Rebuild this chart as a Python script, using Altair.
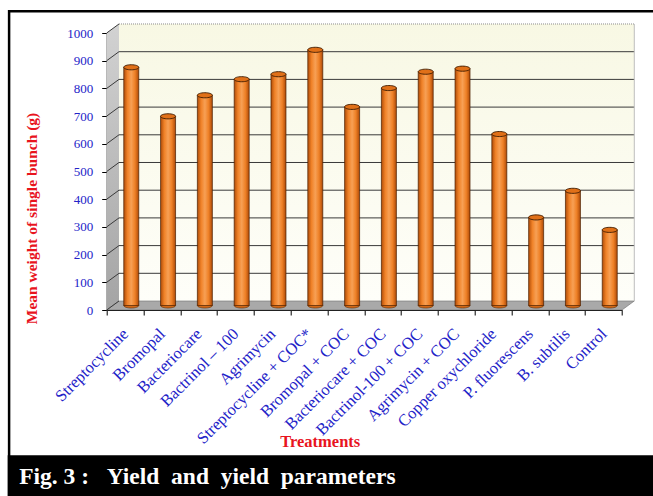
import altair as alt
import pandas as pd

# ---- data -------------------------------------------------------------
treatments = [
    "Streptocycline", "Bromopal", "Bacteriocare", "Bactrinol – 100", "Agrimycin",
    "Streptocycline + COC*", "Bromopal + COC", "Bacteriocare + COC",
    "Bactrinol-100 + COC", "Agrimycin + COC", "Copper oxychloride",
    "P. fluorescens", "B. subtilis", "Control",
]
bunch_weight = [860, 683, 759, 817, 835, 923, 717, 785, 844, 855, 619, 318, 414, 273]
tick_values = [0, 100, 200, 300, 400, 500, 600, 700, 800, 900, 1000]

# ---- layout -----------------------------------------------------------
W, H = 515.3, 277          # front plot frame
N = len(treatments)
DEPTH_X = 0.334            # depth of the 3-D box, in category slots
DEPTH_Y = 32.5             # depth of the 3-D box, in value units
BAR_DX, BAR_DY = 6.15, -4.5
SERIF = "Liberation Serif"
BLUE = "#2323c8"
RED = "#e8141e"

bars_df = pd.DataFrame({"treatment": treatments, "weight": bunch_weight})
grid_df = pd.DataFrame({"v": tick_values})
grid_df["v_back"] = grid_df["v"] + DEPTH_Y
grid_df["x0"] = 0.0
grid_df["x1"] = DEPTH_X
grid_df["x2"] = N + DEPTH_X

xq = alt.Scale(domain=[0, N], nice=False, zero=False)
ys = alt.Scale(domain=[0, 1000], nice=False, zero=True)

y_axis = alt.Axis(
    title="Mean weight of single bunch (g)", titleColor=RED, titleFont=SERIF,
    titleFontSize=15.5, titleFontWeight="bold", titleAngle=270,
    titleX=-75, titleY=185, titleAlign="center", titleBaseline="middle",
    values=tick_values, format="d", labelColor=BLUE, labelFont=SERIF,
    labelFontSize=13, labelPadding=9, tickSize=5, tickColor="#000000",
    domainColor="#000000", grid=False,
)


def yq(field):
    return alt.Y(field, type="quantitative", scale=ys, axis=y_axis)


# back wall
wall_df = pd.DataFrame({"x": [DEPTH_X], "x2": [N + DEPTH_X], "y": [DEPTH_Y], "y2": [1000 + DEPTH_Y]})
back_wall = alt.Chart(wall_df).mark_rect(
    color=alt.Gradient(gradient="linear", x1=0, x2=0, y1=0, y2=1,
                       stops=[alt.GradientStop(offset=0, color="#f8f8e4"),
                              alt.GradientStop(offset=1, color="#fefef9")]),
).encode(
    x=alt.X("x:Q", scale=xq, axis=None), x2="x2:Q",
    y=yq("y"), y2="y2:Q",
)

# left side wall
side_df = pd.DataFrame({"x": [0.0, DEPTH_X], "y": [0.0, DEPTH_Y], "y2": [1000.0, 1000 + DEPTH_Y]})
side_wall = alt.Chart(side_df).mark_area(
    color=alt.Gradient(gradient="linear", x1=0, x2=0, y1=0, y2=1,
                       stops=[alt.GradientStop(offset=0, color="#d2d2d2"),
                              alt.GradientStop(offset=1, color="#a4a4a4")]),
).encode(
    x=alt.X("x:Q", scale=xq, axis=None),
    y=yq("y"), y2="y2:Q",
)

# floor
floor_df = pd.DataFrame({"x": [0.0, DEPTH_X, N, N + DEPTH_X],
                         "y": [0.0, 0.0, 0.0, DEPTH_Y],
                         "y2": [0.0, DEPTH_Y, DEPTH_Y, DEPTH_Y]})
floor = alt.Chart(floor_df).mark_area(color="#a9a9a9", stroke="#6e6e6e", strokeWidth=0.6).encode(
    x=alt.X("x:Q", scale=xq, axis=None),
    y=yq("y"), y2="y2:Q",
)

# gridlines on back wall and their diagonals on the side wall
inner = grid_df[(grid_df["v"] > 0) & (grid_df["v"] < 1000)]
back_grid = alt.Chart(inner).mark_rule(color="#3a3a3a", strokeWidth=1).encode(
    x=alt.X("x1:Q", scale=xq, axis=None), x2="x2:Q",
    y=yq("v_back"),
)
side_grid = alt.Chart(grid_df).mark_rule(color="#3a3a3a", strokeWidth=1).encode(
    x=alt.X("x0:Q", scale=xq, axis=None), x2="x1:Q",
    y=yq("v"), y2="v_back:Q",
)
top_edge = alt.Chart(grid_df[grid_df["v"] == 1000]).mark_rule(
    color="#8a8a8a", strokeWidth=1, strokeDash=[1, 1]
).encode(
    x=alt.X("x1:Q", scale=xq, axis=None), x2="x2:Q",
    y=yq("v_back"),
)
right_edge = alt.Chart(wall_df).mark_rule(color="#bdbdbd", strokeWidth=1).encode(
    x=alt.X("x2:Q", scale=xq, axis=None),
    y=yq("y"), y2="y2:Q",
)

# ---- cylinders --------------------------------------------------------
band = alt.Scale(paddingInner=0, paddingOuter=0)
x_axis = alt.Axis(
    title="Treatments", titleColor=RED, titleFont=SERIF, titleFontSize=16.5,
    titleFontWeight="bold", titleX=213, titleY=131, titleBaseline="middle",
    labelAngle=315, labelAlign="right", labelBaseline="middle",
    labelColor=BLUE, labelFont=SERIF, labelFontSize=16.5, labelPadding=16,
    labelLimit=300, tickBand="extent", tickSize=5, tickColor="#000000",
    domainColor="#000000", grid=False,
)

cyl_fill = alt.Gradient(
    gradient="linear", x1=0, x2=1, y1=0, y2=0,
    stops=[alt.GradientStop(offset=0, color="#b04c08"),
           alt.GradientStop(offset=0.25, color="#f08228"),
           alt.GradientStop(offset=0.5, color="#f7a055"),
           alt.GradientStop(offset=0.75, color="#ee8026"),
           alt.GradientStop(offset=1, color="#ae4a08")],
)
ellipse = "M -1 0 A 1 0.34 0 1 0 1 0 A 1 0.34 0 1 0 -1 0 Z"

bases = alt.Chart(bars_df).mark_point(
    shape=ellipse, size=225, filled=True, fill="#d06818", stroke="#5a2800",
    strokeWidth=0.6, opacity=1, xOffset=BAR_DX, yOffset=BAR_DY,
).encode(
    x=alt.X("treatment:N", sort=treatments, scale=band, axis=None),
    y=yq("z"),
).transform_calculate(z="0")

bars = alt.Chart(bars_df).mark_bar(
    width=15, color=cyl_fill, stroke="#4a2000", strokeWidth=0.7,
    xOffset=BAR_DX, yOffset=BAR_DY,
).encode(
    x=alt.X("treatment:N", sort=treatments, scale=band, axis=x_axis),
    y=yq("weight"),
)

tops = alt.Chart(bars_df).mark_point(
    shape=ellipse, size=225, filled=True, fill="#e07018", stroke="#3c1a00",
    strokeWidth=0.9, opacity=1, xOffset=BAR_DX, yOffset=BAR_DY,
).encode(
    x=alt.X("treatment:N", sort=treatments, scale=band, axis=None),
    y=yq("weight"),
)

# ---- frame and caption -----------------------------------------------
one = pd.DataFrame({"k": [0]})
frame = alt.Chart(one).mark_rect(filled=False, stroke="#000000", strokeWidth=2.5).encode(
    x=alt.value(-97.6), x2=alt.value(560), y=alt.value(-21.8), y2=alt.value(470),
)
band_rect = alt.Chart(one).mark_rect(color="#000000").encode(
    x=alt.value(-99), x2=alt.value(560), y=alt.value(422.3), y2=alt.value(470),
)
caption = alt.Chart(one).mark_text(
    align="left", baseline="alphabetic", font=SERIF, fontSize=23.5,
    fontWeight="bold", color="#ffffff",
).encode(
    x=alt.value(-87.5), y=alt.value(450.5),
    text=alt.value("Fig. 3 :\u00a0\u00a0\u00a0Yield\u00a0\u00a0and\u00a0\u00a0yield\u00a0\u00a0parameters"),
)

chart = alt.layer(
    back_wall, side_wall, floor, back_grid, side_grid, top_edge, right_edge,
    bases, bars, tops, frame, band_rect, caption,
).resolve_scale(
    x="independent"
).properties(
    width=W, height=H,
    autosize="none",
    padding={"left": 106.7, "top": 33, "right": 31, "bottom": 186},
    background="#ffffff",
).configure_view(stroke=None)

chart.save("out.html", embed_options={"renderer": "svg", "actions": False})
